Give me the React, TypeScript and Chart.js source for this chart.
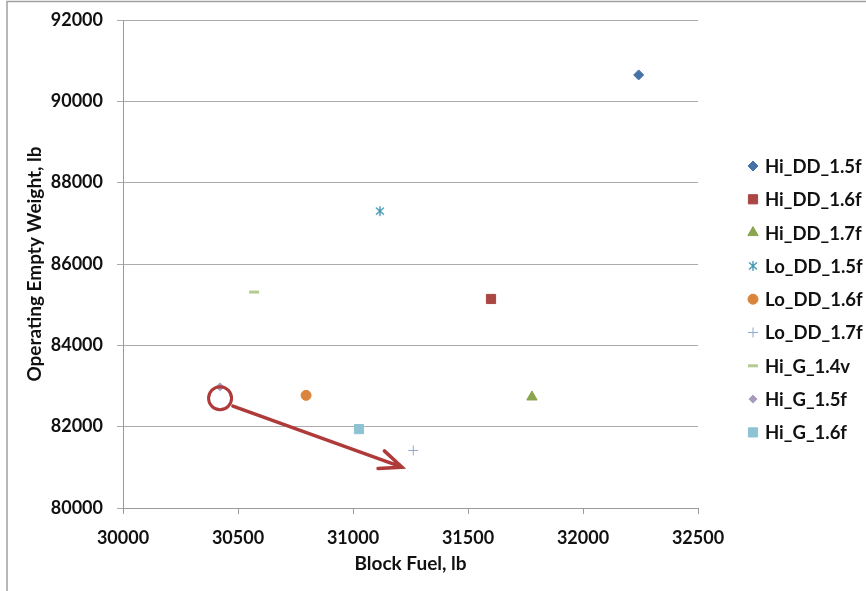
import React, { useEffect, useRef } from 'react';
import { Chart, registerables } from 'chart.js';

Chart.register(...registerables);

// ---- data ----
const seriesNames = ['Hi_DD_1.5f', 'Hi_DD_1.6f', 'Hi_DD_1.7f', 'Lo_DD_1.5f', 'Lo_DD_1.6f', 'Lo_DD_1.7f', 'Hi_G_1.4v', 'Hi_G_1.5f', 'Hi_G_1.6f'];
const blockFuel = [32242, 31600, 31778, 31117, 30796, 31262, 30570, 30422, 31026];
const emptyWeight = [90650, 85140, 82730, 87300, 82770, 81415, 85310, 82980, 81940];
const seriesColors = ['#4572A7', '#AA4643', '#89A54E', '#3D96AE', '#DB843D', '#92A8CD', '#B5CA92', '#A99BBD', '#8EC3D4'];
const markerStyles = ['rectRot', 'rect', 'triangle', 'asterisk', 'circle', 'cross', 'line', 'rectRot', 'rect'];
const markerRadius = [5, 6.5, 6, 5, 5, 5, 5, 4, 6.5];
const markerBorder = [1, 1, 1, 1.3, 1, 1, 3, 1, 1];

const xMin = 30000, xMax = 32500, xStep = 500;
const yMin = 80000, yMax = 92000, yStep = 2000;
const xTitle = 'Block Fuel, lb';
const yTitle = 'Operating Empty Weight, lb';

// annotation (data coordinates)
const circleCenter = { x: 30422, y: 82700 };
const arrowFrom = { x: 30478, y: 82504 };
const arrowTo = { x: 31213, y: 81004 };
const annotationColor = '#AF3A3A';

const FONT = 'Lato, "Open Sans", sans-serif';
const GRID = '#ababab';
const AXIS = '#9a9a9a';

function makeAsterisk(color: string, lw: number): HTMLCanvasElement {
  const c = document.createElement('canvas');
  c.width = 12; c.height = 12;
  const g = c.getContext('2d')!;
  g.strokeStyle = color; g.lineWidth = lw;
  g.beginPath();
  g.moveTo(6, 1); g.lineTo(6, 11);
  g.moveTo(2, 2.5); g.lineTo(10, 9.5);
  g.moveTo(10, 2.5); g.lineTo(2, 9.5);
  g.stroke();
  return c;
}

function drawMarker(ctx: CanvasRenderingContext2D, style: string, x: number, y: number, r: number, color: string, bw: number, img: HTMLCanvasElement) {
  ctx.save();
  ctx.fillStyle = color; ctx.strokeStyle = color; ctx.lineWidth = bw;
  ctx.beginPath();
  switch (style) {
    case 'rectRot':
      ctx.moveTo(x - r, y); ctx.lineTo(x, y - r); ctx.lineTo(x + r, y); ctx.lineTo(x, y + r); ctx.closePath();
      ctx.fill(); ctx.stroke(); break;
    case 'rect': {
      const s = r * Math.SQRT1_2;
      ctx.rect(x - s, y - s, 2 * s, 2 * s); ctx.fill(); ctx.stroke(); break;
    }
    case 'triangle': {
      const a = (2 * Math.PI) / 3;
      ctx.moveTo(x, y - r);
      ctx.lineTo(x + Math.sin(a) * r, y - Math.cos(a) * r);
      ctx.lineTo(x + Math.sin(2 * a) * r, y - Math.cos(2 * a) * r);
      ctx.closePath(); ctx.fill(); ctx.stroke(); break;
    }
    case 'circle':
      ctx.arc(x, y, r, 0, Math.PI * 2); ctx.fill(); ctx.stroke(); break;
    case 'cross':
      ctx.moveTo(x - r, y); ctx.lineTo(x + r, y); ctx.moveTo(x, y - r); ctx.lineTo(x, y + r); ctx.stroke(); break;
    case 'line':
      ctx.moveTo(x - r, y); ctx.lineTo(x + r, y); ctx.stroke(); break;
    case 'asterisk':
      ctx.drawImage(img, x - img.width / 2, y - img.height / 2); break;
  }
  ctx.restore();
}

export default function App() {
  const ref = useRef<HTMLCanvasElement>(null);

  useEffect(() => {
    const canvas = ref.current!;
    const asterisk = makeAsterisk(seriesColors[3], markerBorder[3]);

    const framePlugin = {
      id: 'frame',
      beforeDraw(chart: any) {
        const ctx = chart.ctx as CanvasRenderingContext2D;
        ctx.save();
        ctx.fillStyle = '#ffffff';
        ctx.fillRect(0, 0, chart.width, chart.height);
        ctx.strokeStyle = '#a0a0a0';
        ctx.lineWidth = 1.5;
        ctx.beginPath();
        ctx.moveTo(7, chart.height); ctx.lineTo(7, 1.5); ctx.lineTo(chart.width, 1.5);
        ctx.stroke();
        ctx.restore();
      },
    };

    const annotationPlugin = {
      id: 'annot',
      afterDatasetsDraw(chart: any) {
        const ctx = chart.ctx as CanvasRenderingContext2D;
        const xs = chart.scales.x, ys = chart.scales.y;
        const cx = xs.getPixelForValue(circleCenter.x), cy = ys.getPixelForValue(circleCenter.y);
        const x1 = xs.getPixelForValue(arrowFrom.x), y1 = ys.getPixelForValue(arrowFrom.y);
        const x2 = xs.getPixelForValue(arrowTo.x), y2 = ys.getPixelForValue(arrowTo.y);
        ctx.save();
        ctx.strokeStyle = annotationColor;
        ctx.lineWidth = 3;
        ctx.beginPath();
        ctx.arc(cx, cy, 11.5, 0, Math.PI * 2);
        ctx.stroke();
        ctx.lineWidth = 3.5;
        ctx.lineCap = 'round';
        ctx.beginPath();
        ctx.moveTo(x1, y1); ctx.lineTo(x2, y2);
        const ang = Math.atan2(y2 - y1, x2 - x1);
        const len = 24, spread = 0.4;
        ctx.moveTo(x2 - len * Math.cos(ang - spread), y2 - len * Math.sin(ang - spread));
        ctx.lineTo(x2, y2);
        ctx.lineTo(x2 - len * Math.cos(ang + spread), y2 - len * Math.sin(ang + spread));
        ctx.stroke();
        ctx.restore();
      },
    };

    const legendPlugin = {
      id: 'customLegend',
      afterDraw(chart: any) {
        const ctx = chart.ctx as CanvasRenderingContext2D;
        const mx = 753, tx = 765, y0 = 166, dy = 33.3;
        ctx.save();
        ctx.font = `bold 18.5px ${FONT}`;
        ctx.textBaseline = 'middle';
        ctx.textAlign = 'left';
        seriesNames.forEach((name, i) => {
          const y = y0 + i * dy;
          drawMarker(ctx, markerStyles[i], mx, y, markerRadius[i], seriesColors[i], markerBorder[i], asterisk);
          ctx.fillStyle = '#111111';
          ctx.fillText(name, tx, y + 1);
        });
        ctx.restore();
      },
    };

    const chart = new Chart(canvas, {
      type: 'scatter',
      data: {
        datasets: seriesNames.map((name, i) => ({
          label: name,
          data: [{ x: blockFuel[i], y: emptyWeight[i] }],
          pointStyle: (markerStyles[i] === 'asterisk' ? asterisk : markerStyles[i]) as any,
          pointRadius: markerRadius[i],
          pointHoverRadius: markerRadius[i],
          backgroundColor: seriesColors[i],
          borderColor: seriesColors[i],
          borderWidth: markerBorder[i],
        })),
      },
      options: {
        responsive: false,
        animation: false,
        events: [],
        layout: { padding: { left: 0, top: 20, right: 168, bottom: 0 } },
        plugins: { legend: { display: false }, tooltip: { enabled: false } },
        scales: {
          x: {
            type: 'linear',
            position: 'bottom',
            min: xMin,
            max: xMax,
            ticks: {
              stepSize: xStep,
              padding: 13,
              color: '#111111',
              font: { family: FONT, size: 18, weight: 'bold' },
              callback: (v: any) => String(v),
              maxRotation: 0,
            },
            grid: { drawOnChartArea: false, drawTicks: true, tickLength: 6, color: AXIS },
            border: { display: true, color: AXIS, width: 1 },
            title: {
              display: true,
              text: xTitle,
              color: '#111111',
              font: { family: FONT, size: 19, weight: 'bold' },
              padding: { top: 0, bottom: 16 },
            },
            afterFit: (s: any) => { s.height = 83; },
          },
          y: {
            type: 'linear',
            min: yMin,
            max: yMax,
            ticks: {
              stepSize: yStep,
              padding: 14,
              color: '#111111',
              font: { family: FONT, size: 18, weight: 'bold' },
              callback: (v: any) => String(v),
            },
            grid: { drawOnChartArea: true, drawTicks: true, tickLength: 6, color: GRID },
            border: { display: true, color: AXIS, width: 1 },
            title: {
              display: true,
              text: yTitle,
              color: '#111111',
              font: { family: FONT, size: 19, weight: 'bold' },
              padding: { top: 23, bottom: 0 },
            },
            afterFit: (s: any) => { s.width = 123; s.paddingTop = 0; s.paddingBottom = 0; },
          },
        },
      } as any,
      plugins: [framePlugin, annotationPlugin, legendPlugin],
    });

    return () => chart.destroy();
  }, []);

  return (
    <div style={{ position: 'absolute', left: 0, top: 0, width: 866, height: 591, background: '#ffffff' }}>
      <canvas ref={ref} width={866} height={591} style={{ display: 'block', width: 866, height: 591 }} />
    </div>
  );
}
